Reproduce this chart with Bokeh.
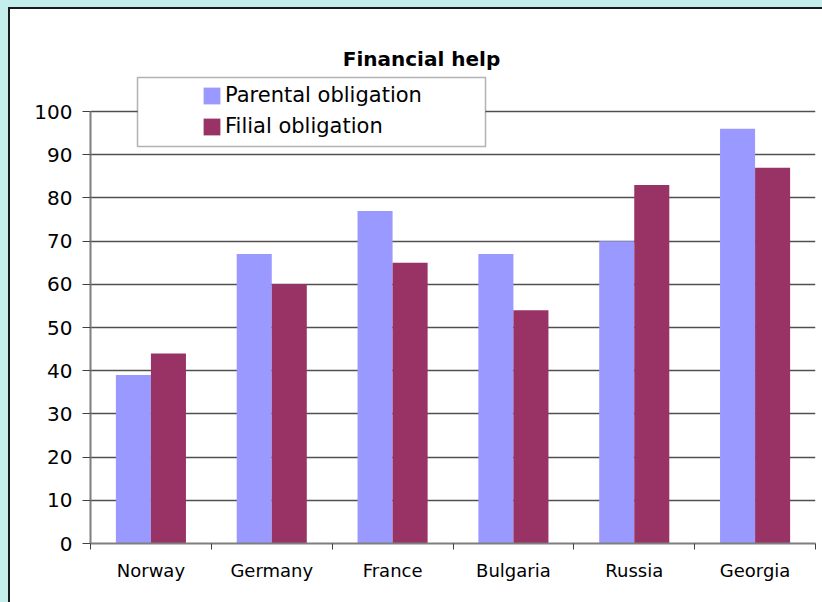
import numpy as np
from bokeh.plotting import figure
from bokeh.layouts import column
from bokeh.models import (Range1d, FixedTicker, Legend, LegendItem, Label,
                          BoxAnnotation, ColumnDataSource)
from bokeh.transform import dodge
from bokeh.embed import file_html
from bokeh.resources import INLINE

countries = ["Norway", "Germany", "France", "Bulgaria", "Russia", "Georgia"]
parental = [39, 67, 77, 67, 70, 96]
filial = [44, 60, 65, 54, 83, 87]
y_ticks = list(range(0, 101, 10))

PAR_COLOR = "#9999FF"
FIL_COLOR = "#993366"
FONT = "DejaVu Sans"
Y_TOP = 115.3  # headroom above 100 for title and legend inside the frame

centers = np.arange(len(countries)) + 0.5
src = ColumnDataSource(dict(x=centers, parental=parental, filial=filial))

p = figure(width=814, height=595, output_backend="svg", toolbar_location=None,
           x_range=Range1d(0, len(countries)), y_range=Range1d(0, Y_TOP),
           min_border_left=80, min_border_right=9, min_border_top=36,
           min_border_bottom=61)
p.outline_line_color = None
p.background_fill_color = None
p.border_fill_color = None
p.styles = {"border-left": "2px solid #1a1a1a", "border-top": "2px solid #1a1a1a",
            "background-color": "white"}

r1 = p.vbar(x=dodge("x", -0.145), top="parental", width=0.29, source=src,
            fill_color=PAR_COLOR, line_color=None)
r2 = p.vbar(x=dodge("x", 0.145), top="filial", width=0.29, source=src,
            fill_color=FIL_COLOR, line_color=None)

# grid
p.xgrid.visible = False
p.ygrid.ticker = FixedTicker(ticks=y_ticks)
p.ygrid.grid_line_color = "#505050"
p.ygrid.grid_line_width = 1.3

# y axis
ya = p.yaxis[0]
ya.ticker = FixedTicker(ticks=y_ticks)
ya.bounds = (0, 100)
ya.axis_line_color = "#7f7f7f"
ya.axis_line_width = 2
ya.major_tick_line_color = "#404040"
ya.major_tick_out = 8
ya.major_tick_in = 0
ya.minor_tick_line_color = None
ya.major_label_text_font = FONT
ya.major_label_text_font_size = "20px"
ya.major_label_text_color = "black"
ya.major_label_standoff = 10

# x axis: labels at centers, tick marks at category boundaries
xa = p.xaxis[0]
xa.ticker = FixedTicker(ticks=list(centers), minor_ticks=list(range(len(countries) + 1)))
xa.major_label_overrides = {float(c): n for c, n in zip(centers, countries)}
xa.axis_line_color = "#7f7f7f"
xa.axis_line_width = 2
xa.major_tick_line_color = None
xa.major_tick_out = 0
xa.major_tick_in = 0
xa.minor_tick_line_color = "#404040"
xa.minor_tick_out = 6
xa.minor_tick_in = 0
xa.major_label_text_font = FONT
xa.major_label_text_font_size = "18px"
xa.major_label_text_color = "black"
xa.major_label_standoff = 10

# title
p.add_layout(Label(x=331, y=485, x_units="screen", y_units="screen",
                   text="Financial help", text_font=FONT, text_font_style="bold",
                   text_font_size="20px", text_align="center",
                   text_baseline="alphabetic", text_color="black"))

# legend box
box = BoxAnnotation(left=47, right=395, bottom=397, top=466,
                    left_units="screen", right_units="screen",
                    top_units="screen", bottom_units="screen",
                    fill_color="white", fill_alpha=1,
                    line_color="black", line_width=1.5)
p.add_layout(box)

legend = Legend(items=[LegendItem(label="Parental obligation", renderers=[r1]),
                       LegendItem(label="Filial obligation", renderers=[r2])],
                location=(111, 405), orientation="vertical",
                padding=0, margin=0, spacing=7,
                glyph_width=21, glyph_height=21, label_height=21,
                label_standoff=3,
                label_text_font=FONT, label_text_font_size="21px",
                label_text_color="black",
                border_line_alpha=0, background_fill_alpha=0)
p.add_layout(legend)

page = column(p, styles={"background-color": "#c4eeeb", "padding": "7px 0 0 8px"})

open("out.html", "w").write(file_html(page, INLINE))
